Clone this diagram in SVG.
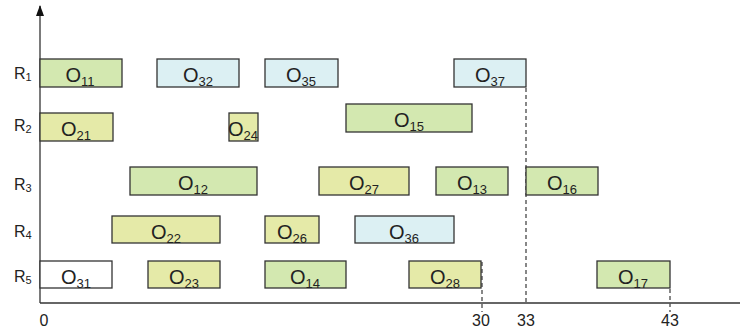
<svg xmlns="http://www.w3.org/2000/svg" width="740" height="333" viewBox="0 0 740 333">
<style>
text{font-family:"Liberation Sans",Arial,sans-serif;fill:#222}
.op rect{stroke:#333;stroke-width:1.3}
.g rect{fill:#d3e8b0}
.y rect{fill:#e5eaa8}
.b rect{fill:#dcf0f3}
.w rect{fill:#fff}
.op text{font-size:20px;text-anchor:middle}
.sub{font-size:13px}
.rl{font-size:16px}
.rs{font-size:11px}
.tick{font-size:16px;text-anchor:middle}
.dash{stroke:#555;stroke-width:1.4;stroke-dasharray:4 3;fill:none}
.axis{stroke:#333;stroke-width:1.3;fill:none}
</style>
<g id="connectors">
<path class="axis" d="M40,303 V6"/>
<path d="M36,16 L40,5 L44,16 Z" fill="#111"/>
<path class="axis" d="M40,303 H740"/>
<path class="dash" d="M526,88 V303"/>
<path class="dash" d="M482,262 V312"/>
<path class="dash" d="M670,289 V312"/>
</g>
<g id="labels">
<text class="rl" x="14" y="79">R<tspan class="rs" dy="2">1</tspan></text>
<text class="rl" x="14" y="131">R<tspan class="rs" dy="2">2</tspan></text>
<text class="rl" x="14" y="190">R<tspan class="rs" dy="2">3</tspan></text>
<text class="rl" x="14" y="237">R<tspan class="rs" dy="2">4</tspan></text>
<text class="rl" x="14" y="282">R<tspan class="rs" dy="2">5</tspan></text>
<text class="tick" x="44" y="326">0</text>
<text class="tick" x="481" y="326">30</text>
<text class="tick" x="526" y="326">33</text>
<text class="tick" x="670" y="326">43</text>
</g>
<g id="O11" class="op g"><rect x="40" y="59" width="82" height="28"/><text x="80" y="82">O<tspan class="sub" dy="4">11</tspan></text></g>
<g id="O32" class="op b"><rect x="157" y="59" width="82" height="28"/><text x="198" y="82">O<tspan class="sub" dy="4">32</tspan></text></g>
<g id="O35" class="op b"><rect x="265" y="59" width="73" height="28"/><text x="301" y="82">O<tspan class="sub" dy="4">35</tspan></text></g>
<g id="O37" class="op b"><rect x="454" y="59" width="72" height="28"/><text x="490" y="82">O<tspan class="sub" dy="4">37</tspan></text></g>
<g id="O21" class="op y"><rect x="40" y="113" width="73" height="28"/><text x="76" y="136">O<tspan class="sub" dy="4">21</tspan></text></g>
<g id="O24" class="op y"><rect x="229" y="113" width="29" height="28"/><text x="243" y="136">O<tspan class="sub" dy="4">24</tspan></text></g>
<g id="O15" class="op g"><rect x="346" y="104" width="126" height="28"/><text x="409" y="127">O<tspan class="sub" dy="4">15</tspan></text></g>
<g id="O12" class="op g"><rect x="130" y="167" width="127" height="28"/><text x="193" y="190">O<tspan class="sub" dy="4">12</tspan></text></g>
<g id="O27" class="op y"><rect x="319" y="167" width="90" height="28"/><text x="364" y="190">O<tspan class="sub" dy="4">27</tspan></text></g>
<g id="O13" class="op g"><rect x="436" y="167" width="72" height="28"/><text x="472" y="190">O<tspan class="sub" dy="4">13</tspan></text></g>
<g id="O16" class="op g"><rect x="526" y="167" width="72" height="28"/><text x="562" y="190">O<tspan class="sub" dy="4">16</tspan></text></g>
<g id="O22" class="op y"><rect x="112" y="216" width="108" height="27"/><text x="166" y="239">O<tspan class="sub" dy="4">22</tspan></text></g>
<g id="O26" class="op y"><rect x="265" y="216" width="54" height="27"/><text x="292" y="239">O<tspan class="sub" dy="4">26</tspan></text></g>
<g id="O36" class="op b"><rect x="355" y="216" width="99" height="27"/><text x="404" y="239">O<tspan class="sub" dy="4">36</tspan></text></g>
<g id="O31" class="op w"><rect x="40" y="261" width="72" height="27"/><text x="76" y="284">O<tspan class="sub" dy="4">31</tspan></text></g>
<g id="O23" class="op y"><rect x="148" y="261" width="72" height="27"/><text x="184" y="284">O<tspan class="sub" dy="4">23</tspan></text></g>
<g id="O14" class="op g"><rect x="265" y="261" width="81" height="27"/><text x="305" y="284">O<tspan class="sub" dy="4">14</tspan></text></g>
<g id="O28" class="op y"><rect x="409" y="261" width="72" height="27"/><text x="445" y="284">O<tspan class="sub" dy="4">28</tspan></text></g>
<g id="O17" class="op g"><rect x="597" y="261" width="73" height="27"/><text x="633" y="284">O<tspan class="sub" dy="4">17</tspan></text></g>
</svg>
